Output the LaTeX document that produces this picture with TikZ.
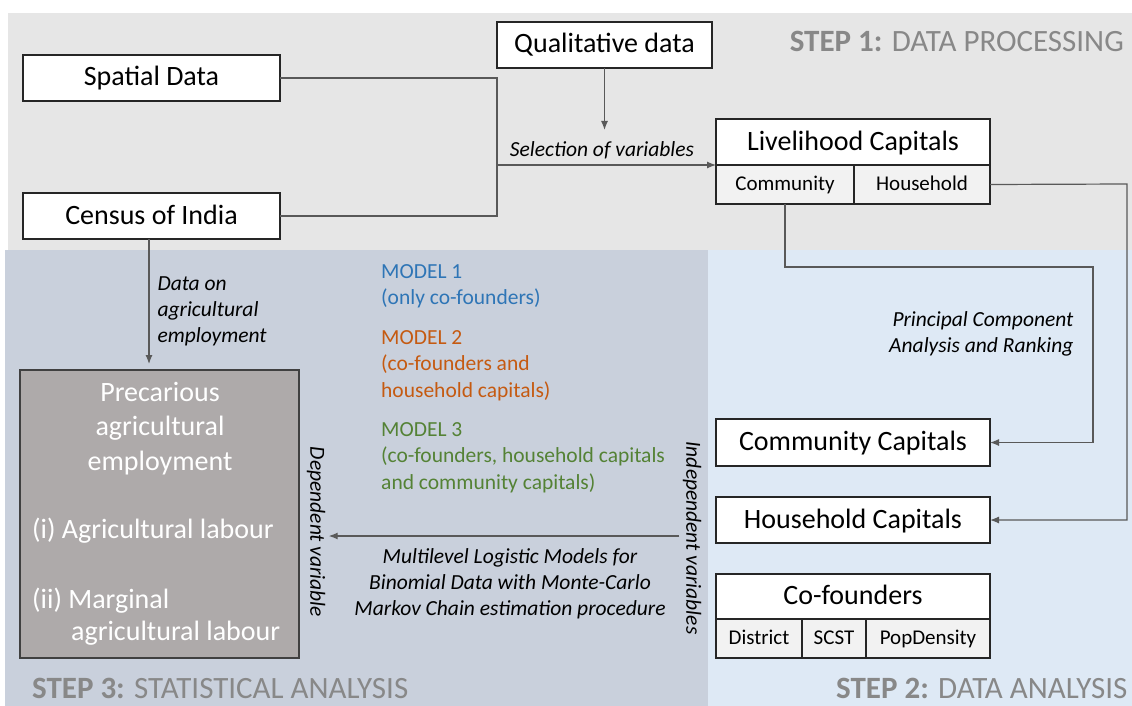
\documentclass[tikz,border=0pt]{standalone}
\usepackage{fontspec}
\setmainfont{Carlito}
\usetikzlibrary{arrows.meta,positioning}

\definecolor{stepone}{HTML}{E6E6E6}
\definecolor{stepthree}{HTML}{C9D0DC}
\definecolor{steptwo}{HTML}{DEE9F5}
\definecolor{precfill}{HTML}{AEAAAA}
\definecolor{stepgray}{HTML}{888888}
\definecolor{modelblue}{HTML}{2E75B6}
\definecolor{modelorange}{HTML}{C55A11}
\definecolor{modelgreen}{HTML}{548235}

\tikzset{
	box/.style={draw=black!85, line width=1.7pt, fill=white, minimum height=46pt,
		inner sep=0pt, outer sep=0pt, text height=21pt, text depth=5pt,
		font=\fontsize{28}{34}\selectfont},
	cell/.style={draw=black!85, line width=1.7pt, fill=black!5, minimum height=39pt,
		inner sep=0pt, outer sep=0pt, text height=16pt, text depth=3.5pt,
		anchor=north west, font=\fontsize{21}{25}\selectfont},
	conn/.style={draw=black!65, line width=1.2pt},
	arr/.style={conn, -{Latex[length=9pt,width=7pt]}},
	lbl/.style={font=\fontsize{21.5}{26}\selectfont\itshape},
	modeltxt/.style={font=\fontsize{21.5}{26.5}\selectfont, align=left, anchor=north west, inner sep=0pt},
	steplbl/.style={text=stepgray, font=\fontsize{31}{36}\selectfont, inner sep=0pt},
	prectxt/.style={text=white, font=\fontsize{28}{34.5}\selectfont, inner sep=0pt}
}

\begin{document}
\begin{tikzpicture}[x=1pt,y=-1pt]
	\useasboundingbox (0,0) rectangle (1132,706);

	% panels
	\fill[stepone] (8,13) rectangle (1132,250);
	\fill[stepthree] (5,250) rectangle (708,706);
	\fill[steptwo] (708,250) rectangle (1132,706);

	\node[steplbl, anchor=base east] (stepA) at (1124,52) {\textbf{STEP 1:} DATA PROCESSING};
	\node[steplbl, anchor=base west] (stepB) at (836,698) {\textbf{STEP 2:} DATA ANALYSIS};
	\node[steplbl, anchor=base west] (stepC) at (32,698) {\textbf{STEP 3:} STATISTICAL ANALYSIS};

	% step 1
	\node[box, minimum width=257pt] (spatial) at (151.5,78) {Spatial Data};
	\node[box, minimum width=257pt] (census) at (151.5,216) {Census of India};
	\node[box, minimum width=215pt] (qual) at (604.5,45) {Qualitative data};
	\node[box, minimum width=274pt] (liv) at (853,142) {Livelihood Capitals};
	\node[cell, minimum width=138pt] (comm) at (liv.south west) {Community};
	\node[cell, minimum width=136pt] (hh) at (comm.north east) {Household};

	\coordinate (join) at (497,165);
	\coordinate (selend) at (604.5,130);
	\draw[conn] (spatial.east) -| (join) |- (census.east);
	\draw[arr] (join) -- (liv.south west);
	\draw[arr] (qual.south) -- (selend);
	\node[lbl, anchor=base] (sel) at (602,157) {Selection of variables};

	% step 2
	\node[box, minimum width=274pt, minimum height=47pt] (commcap) at (853,442.5) {Community Capitals};
	\node[box, minimum width=274pt] (hhcap) at (853,520) {Household Capitals};
	\node[box, minimum width=274pt, minimum height=45pt] (cofound) at (853,596.5) {Co-founders};
	\node[cell, minimum width=86pt] (district) at (cofound.south west) {District};
	\node[cell, minimum width=64pt] (scst) at (district.north east) {SCST};
	\node[cell, minimum width=124pt] (popdens) at (scst.north east) {PopDensity};

	\coordinate (crail) at (1093,267);
	\coordinate (hrail) at (1127,184);
	\draw[arr] (comm.south) |- (crail) |- (commcap.east);
	\draw[arr] (hh.east) -- (hrail) |- (hhcap.east);
	\node[lbl, align=right, anchor=base east] (pca) at (1077,352) {Principal Component\\Analysis and Ranking};

	% step 3
	\node[draw=black!75, line width=2pt, fill=precfill, minimum width=279pt, minimum height=288pt] (prec) at (159.5,514) {};
	\node[prectxt, align=center, anchor=base] (prectitle) at (160,470) {Precarious\\agricultural\\employment};
	\node[prectxt, anchor=base west] (labA) at (32,538) {(i) Agricultural labour};
	\node[prectxt, anchor=base west] (labB) at (32,608) {(ii) Marginal};
	\node[prectxt, anchor=base west] (labC) at (71,640) {agricultural labour};

	\draw[arr] ([xshift=-2.5pt]census.south) -- ([xshift=-10.5pt,yshift=5pt]prec.north);
	\node[lbl, align=left, anchor=base west] (dataon) at (154,342) {Data on\\agricultural\\employment};

	\node[modeltxt, text=modelblue] (mA) at (381,264) {MODEL 1\\(only co-founders)};
	\node[modeltxt, text=modelorange] (mB) at (381,330) {MODEL 2\\(co-founders and\\household capitals)};
	\node[modeltxt, text=modelgreen] (mC) at (381,422) {MODEL 3\\(co-founders, household capitals\\and community capitals)};

	\node[lbl, rotate=-90] (dep) at (316,532) {Dependent variable};
	\node[lbl, rotate=-90] (indep) at (692,538) {Independent variables};
	\draw[arr] (indep.south |- 0,536) -- (dep.north |- 0,536);
	\node[lbl, align=center, anchor=base] (mlm) at (510,615) {Multilevel Logistic Models for\\Binomial Data with Monte-Carlo\\Markov Chain estimation procedure};
\end{tikzpicture}
\end{document}
